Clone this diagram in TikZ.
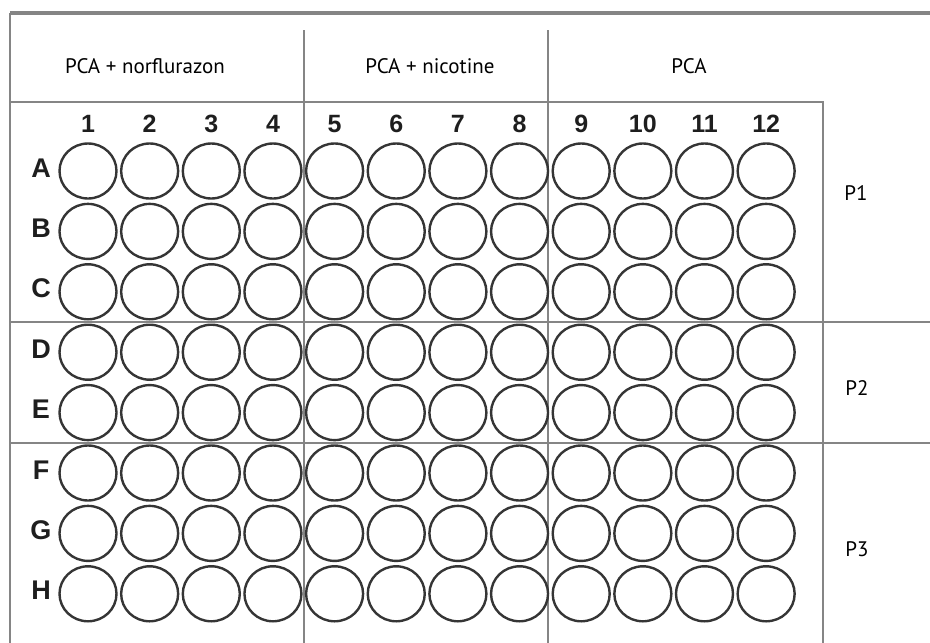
\documentclass[tikz,border=0pt]{standalone}
\usepackage{fontspec}
\setmainfont{Liberation Sans}
\newfontfamily\headfont{PT Sans}
\usepackage{tikz}
\usetikzlibrary{shapes.geometric}
\definecolor{frameline}{HTML}{858585}
\definecolor{wellink}{HTML}{353535}
\definecolor{labelink}{HTML}{1E1E1E}

\begin{document}
\begin{tikzpicture}[x=1pt,y=-1pt,
    well/.style={ellipse,draw=wellink,line width=2.4pt,minimum width=57pt,
      minimum height=55pt,inner sep=0pt},
    platelab/.style={anchor=base,text=labelink,font=\bfseries\fontsize{25}{28}\selectfont,inner sep=0pt},
    rowlab/.style={platelab,font=\bfseries\fontsize{27}{30}\selectfont},
    grouplab/.style={anchor=base,text=black,font=\headfont\fontsize{21}{24}\selectfont,inner sep=0pt},
    sepline/.style={draw=frameline,line width=1.8pt}]
  \useasboundingbox (0,0) rectangle (930,643);
  % frame and separators
  \draw[frameline,line width=3.2pt] (10,13) -- (930,13);
  \draw[sepline] (10,13) -- (10,643);
  \draw[sepline] (10,102) -- (823,102) -- (823,643);
  \draw[sepline] (304,30) -- (304,643);
  \draw[sepline] (548,30) -- (548,643);
  \draw[sepline] (10,322) -- (930,322);
  \draw[sepline] (10,443) -- (930,443);
  % treatment groups
  \node[grouplab] (norflurazon) at (145,73) {PCA + norflurazon};
  \node[grouplab] (nicotine) at (430,73) {PCA + nicotine};
  \node[grouplab] (pcaonly) at (689,73) {PCA};
  \node[grouplab] (P1) at (856,200) {P1};
  \node[grouplab] (P2) at (857,395) {P2};
  \node[grouplab] (P3) at (857,556) {P3};
  % wells
  \foreach \c in {1,...,12}
    \node[platelab] (col\c) at ({88+(\c-1)*61.65},132) {\c};
  \foreach \r [count=\i] in {A,B,C,D,E,F,G,H} {
    \node[rowlab] (row\r) at (41,{177+(\i-1)*60.4}) {\r};
    \foreach \c in {1,...,12}
      \node[well] (\r\c) at ({88+(\c-1)*61.65},{171+(\i-1)*60.4}) {};
  }
\end{tikzpicture}
\end{document}
